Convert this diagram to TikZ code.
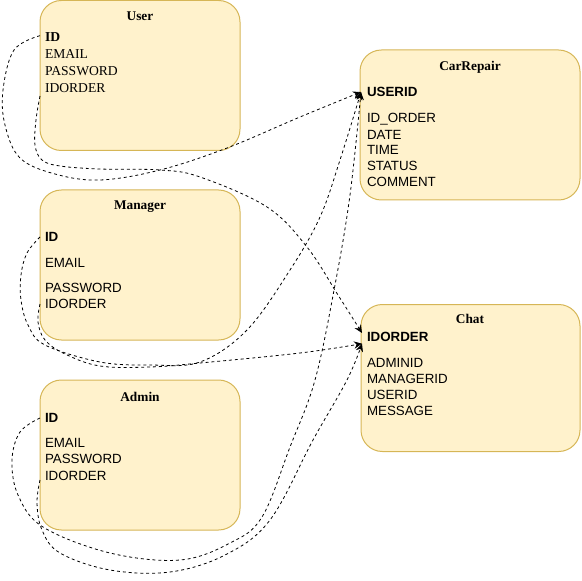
\documentclass[tikz,border=0pt]{standalone}
\usepackage{fontspec}
\setmainfont{Liberation Serif}
\newfontfamily\arialf{Liberation Sans}
\usetikzlibrary{arrows.meta}
\definecolor{boxfill}{HTML}{FFF2CC}
\definecolor{boxline}{HTML}{D6B656}
\begin{document}
\begin{tikzpicture}[x=0.75pt,y=-0.75pt,
  entity/.style={draw=boxline, fill=boxfill, line width=0.75pt, rounded corners=16pt,
    inner sep=0pt, outer sep=0pt, minimum width=150pt, minimum height=112.5pt},
  ttl/.style={font=\fontsize{10}{12}\selectfont\bfseries, inner sep=0pt},
  fld/.style={anchor=west, inner ysep=0pt, inner xsep=3.75pt, outer sep=0pt,
    font=\arialf\fontsize{10}{12}\selectfont},
  sfld/.style={fld, font=\fontsize{10.2}{12}\selectfont},
  rel/.style={dash pattern=on 2.2pt off 2.2pt, line width=0.6pt,
    -{Stealth[length=6pt,width=5.5pt]}}
]
\useasboundingbox (0,0) rectangle (582,581);

% boxes
\node[entity] (user) at (140,75.5) {};
\node[entity] (manager) at (140,265) {};
\node[entity] (admin) at (140,455) {};
\node[entity, minimum width=165pt] (carrepair) at (470,125) {};
\node[entity, minimum width=164.25pt, minimum height=110.25pt] (chat) at (470.5,378) {};

% titles
\node[ttl] (tuser) at (140,16) {User};
\node[ttl] (tmanager) at (140,207) {Manager};
\node[ttl] (tadmin) at (140,397) {Admin};
\node[ttl] (tcar) at (470,67) {CarRepair};
\node[ttl] (tchat) at (470,319) {Chat};

% User fields (serif)
\node[sfld, font=\fontsize{10.2}{12}\selectfont\bfseries] (uid) at (40,37) {ID};
\node[sfld] (uemail) at (40,54) {EMAIL};
\node[sfld] (upass) at (40,71) {PASSWORD};
\node[sfld] (uorder) at (40,88) {IDORDER};

% Manager fields
\node[fld, font=\arialf\fontsize{10}{12}\selectfont\bfseries] (mid) at (40,237) {ID};
\node[fld] (memail) at (40,263) {EMAIL};
\node[fld] (mpass) at (40,288) {PASSWORD};
\node[fld] (morder) at (40,304) {IDORDER};

% Admin fields
\node[fld, font=\arialf\fontsize{10}{12}\selectfont\bfseries] (aid) at (40,418) {ID};
\node[fld] (aemail) at (40,443) {EMAIL};
\node[fld] (apass) at (40,459) {PASSWORD};
\node[fld] (aorder) at (40,476) {IDORDER};

% CarRepair fields
\node[fld, inner xsep=4.5pt, font=\arialf\fontsize{10}{12}\selectfont\bfseries] (cuserid) at (361,92) {USERID};
\node[fld, inner xsep=4.5pt] (corder) at (361,119) {ID\_ORDER};
\node[fld, inner xsep=4.5pt] (cdate) at (361,135) {DATE};
\node[fld, inner xsep=4.5pt] (ctime) at (361,150) {TIME};
\node[fld, inner xsep=4.5pt] (cstatus) at (361,166) {STATUS};
\node[fld, inner xsep=4.5pt] (ccomment) at (361,182) {COMMENT};

% Chat fields
\node[fld, font=\arialf\fontsize{10}{12}\selectfont\bfseries] (hidorder) at (362,337) {IDORDER};
\node[fld] (hadmin) at (362,363) {ADMINID};
\node[fld] (hmanager) at (362,379) {MANAGERID};
\node[fld] (huser) at (362,395) {USERID};
\node[fld] (hmessage) at (362,411) {MESSAGE};

\coordinate (chatup) at ([yshift=3pt]hidorder.west);
\coordinate (chatlow) at ([yshift=-5pt]hidorder.west);

% connectors
\draw[rel] plot[smooth, tension=0.6] coordinates {([yshift=1pt]uid.west) (14,50) (3,90) (5,125) (20,158) (55,174) (100,180) (160,170) (227,148) (300,117) (cuserid.west)};
\draw[rel] plot[smooth, tension=0.6] coordinates {([yshift=-6pt]uorder.west) (36,120) (35,145) (42,160) (60,166) (100,169) (160,170) (200,177) (267,207) (307,247) (338,295) (chatup)};
\draw[rel] plot[smooth, tension=0.6] coordinates {(mid.west) (27,253) (21,275) (21,300) (28,325) (45,345) (100,362) (150,365) (200,362) (247,330) (290,270) (320,217) (340,160) (cuserid.west)};
\draw[rel] plot[smooth, tension=0.6] coordinates {(morder.west) (38,322) (45,340) (65,354) (100,366) (150,367) (200,363) (300,353) (chatlow)};
\draw[rel] plot[smooth, tension=0.6] coordinates {(aid.west) (20,432) (12,460) (18,495) (43,527) (110,553) (180,560) (230,543) (262,517) (290,447) (315,380) (335,285) (350,195) (cuserid.west)};
\draw[rel] plot[smooth, tension=0.6] coordinates {([yshift=-3pt]aorder.west) (37,503) (42,530) (60,553) (110,570) (170,572) (225,555) (270,520) (313,440) (347,380) (chatlow)};
\end{tikzpicture}
\end{document}
